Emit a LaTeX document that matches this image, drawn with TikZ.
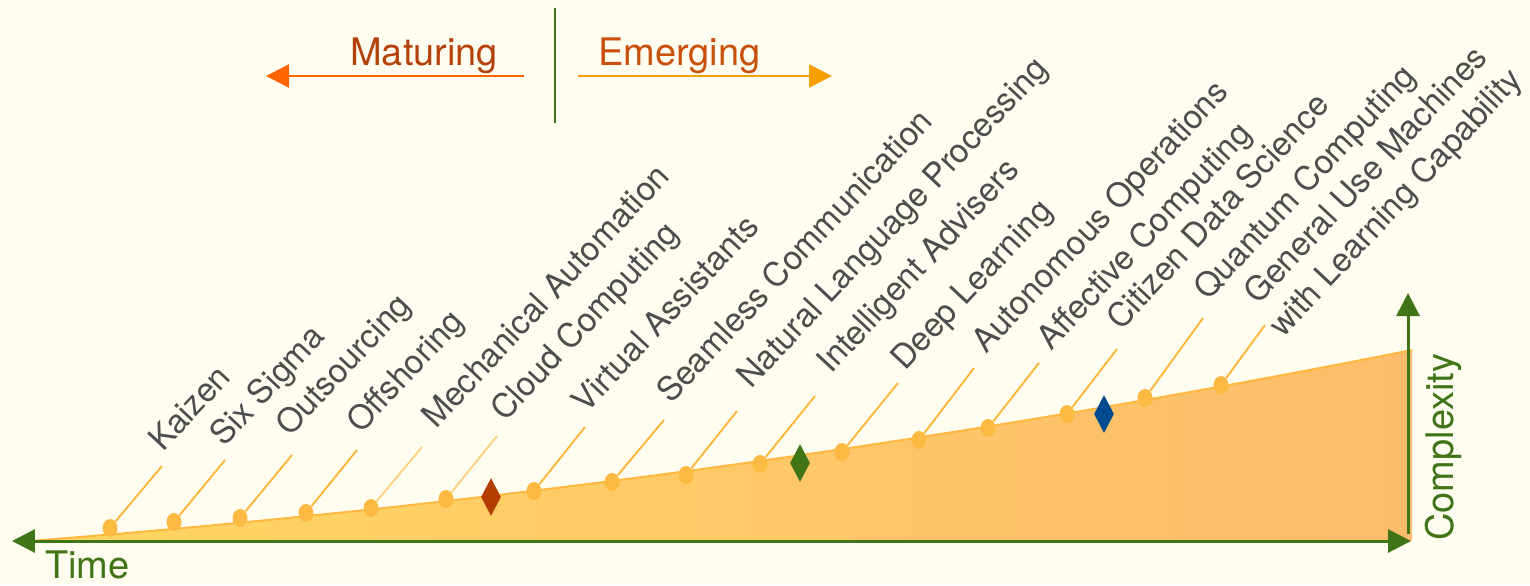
\documentclass[tikz,border=0pt]{standalone}
\usepackage{fontspec}
\setmainfont{TeX Gyre Heros}
\usetikzlibrary{arrows.meta,shapes.geometric}

\definecolor{paper}{HTML}{FFFDF0}
\definecolor{axisgreen}{HTML}{3F7417}
\definecolor{techgray}{HTML}{4D4D4D}
\definecolor{dotorange}{HTML}{FDBA43}
\definecolor{leadorange}{HTML}{FFB73D}
\definecolor{paleorange}{HTML}{FFD283}
\definecolor{fillyellow}{HTML}{FFD662}
\definecolor{fillorange}{HTML}{FDBC6B}
\definecolor{rust}{HTML}{B33D00}
\definecolor{navy}{HTML}{004A8F}
\definecolor{maturetext}{HTML}{B5410A}
\definecolor{emergetext}{HTML}{C8500A}
\definecolor{maturearrow}{HTML}{FF6400}
\definecolor{emergearrow}{HTML}{F5A000}

\begin{document}
\begin{tikzpicture}[
    x=0.02cm, y=-0.02cm,
    dot/.style={ellipse, fill=dotorange, inner sep=0pt, minimum width=0.3cm, minimum height=0.36cm},
    lead/.style={draw=leadorange, line width=1.1pt},
    palelead/.style={draw=paleorange, line width=1.1pt},
    tech/.style={shift={(8,5)}, anchor=base west, rotate=47, inner sep=0pt, text=techgray, font=\fontsize{18.9}{23}\selectfont},
    gem/.style={diamond, inner sep=0pt, minimum width=0.4cm, minimum height=0.76cm},
    axisarrow/.style={draw=axisgreen, line width=1.7pt},
    heading/.style={anchor=base west, inner sep=0pt, font=\fontsize{21.6}{26}\selectfont},
]

\path[use as bounding box, fill=paper] (0,0) rectangle (1530,585);

% Area under the curve
\shade[left color=fillyellow, right color=fillorange]
    (30,541) .. controls (490,505) and (950,442) .. (1412,350) -- (1412,541) -- cycle;
\draw[leadorange, line width=1.1pt] (30,541) .. controls (490,505) and (950,442) .. (1412,350);

% Axes
\coordinate (timeL) at (12,541);
\coordinate (timeR) at (1411,541);
\coordinate (cplxB) at (1408,534);
\coordinate (cplxT) at (1408,293);
\draw[axisarrow, {Triangle[length=0.46cm, width=0.46cm]}-{Triangle[length=0.46cm, width=0.46cm]}] (timeL) -- (timeR);
\draw[axisarrow, -{Triangle[length=0.46cm, width=0.46cm]}] (cplxB) -- (cplxT);
\node[heading, text=axisgreen] (time) at (45,578) {Time};
\node[heading, text=axisgreen, rotate=90] (complexity) at (1453,541) {Complexity};

% Maturing / Emerging
\coordinate (splitT) at (555,8);
\coordinate (splitB) at (555,123);
\coordinate (matR) at (524,76);
\coordinate (matL) at (266,76);
\coordinate (emeL) at (578,76);
\coordinate (emeR) at (832,76);
\draw[draw=axisgreen, line width=1.2pt] (splitT) -- (splitB);
\draw[draw=maturearrow, line width=1.3pt, -{Triangle[length=0.46cm, width=0.46cm]}] (matR) -- (matL);
\draw[draw=emergearrow, line width=1.3pt, -{Triangle[length=0.46cm, width=0.46cm]}] (emeL) -- (emeR);
\node[heading, text=maturetext] (maturing) at (350,65) {Maturing};
\node[heading, text=emergetext] (emerging) at (598,65) {Emerging};

% Nodes
\node[dot] (d1) at (110,528) {};
\node[dot] (d2) at (174,522) {};
\node[dot] (d3) at (240,518) {};
\node[dot] (d4) at (306,513) {};
\node[dot] (d5) at (371,508) {};
\node[dot] (d6) at (446,499) {};
\node[dot] (d7) at (534,491) {};
\node[dot] (d8) at (612,482) {};
\node[dot] (d9) at (686,475) {};
\node[dot] (d10) at (760,464) {};
\node[dot] (d11) at (842,452) {};
\node[dot] (d12) at (919,440) {};
\node[dot] (d13) at (988,428) {};
\node[dot] (d14) at (1067,414) {};
\node[dot] (d15) at (1145,398) {};
\node[dot] (d16) at (1221,385) {};

\coordinate (c1) at (162,466);
\coordinate (c2) at (225,460);
\coordinate (c3) at (292,455);
\coordinate (c4) at (357,450);
\coordinate (c5) at (422,447);
\coordinate (c6) at (497,436);
\coordinate (c7) at (585,427);
\coordinate (c8) at (664,420);
\coordinate (c9) at (737,411);
\coordinate (c10) at (815,396);
\coordinate (c11) at (898,383);
\coordinate (c12) at (974,368);
\coordinate (c13) at (1039,363);
\coordinate (c14) at (1117,349);
\coordinate (c15) at (1203,318);
\coordinate (c16) at (1265,325);

\node[gem, fill=rust] (m1) at (491,497) {};
\node[gem, fill=axisgreen] (m2) at (800,463) {};
\node[gem, fill=navy] (m3) at (1104,414) {};

\node[tech] (kaizen) at (155,448) {Kaizen};
\node[tech] (sixsigma) at (216,443) {Six Sigma};
\node[tech] (outsourcing) at (282,433) {Outsourcing};
\node[tech] (offshoring) at (353,430) {Offshoring};
\node[tech] (mechanical) at (428,425) {Mechanical Automation};
\node[tech] (cloud) at (497,418) {Cloud Computing};
\node[tech] (virtual) at (578,410) {Virtual Assistants};
\node[tech] (seamless) at (663,400) {Seamless Communication};
\node[tech] (nlp) at (743,385) {Natural Language Processing};
\node[tech] (advisers) at (823,370) {Intelligent Advisers};
\node[tech] (deep) at (897,367) {Deep Learning};
\node[tech] (autonomous) at (978,350) {Autonomous Operations};
\node[tech] (affective) at (1043,347) {Affective Computing};
\node[tech] (citizen) at (1113,327) {Citizen Data Science};
\node[tech] (quantum) at (1200,297) {Quantum Computing};
\node[tech, align=center] (general) at (1275,334) {General Use Machines\\with Learning Capability};

% Edges
\draw[lead] (d1) -- (c1);
\draw[lead] (d2) -- (c2);
\draw[lead] (d3) -- (c3);
\draw[lead] (d4) -- (c4);
\draw[palelead] (d5) -- (c5);
\draw[palelead] (d6) -- (c6);
\draw[lead] (d7) -- (c7);
\draw[lead] (d8) -- (c8);
\draw[lead] (d9) -- (c9);
\draw[lead] (d10) -- (c10);
\draw[lead] (d11) -- (c11);
\draw[lead] (d12) -- (c12);
\draw[lead] (d13) -- (c13);
\draw[lead] (d14) -- (c14);
\draw[lead] (d15) -- (c15);
\draw[lead] (d16) -- (c16);

\end{tikzpicture}
\end{document}
